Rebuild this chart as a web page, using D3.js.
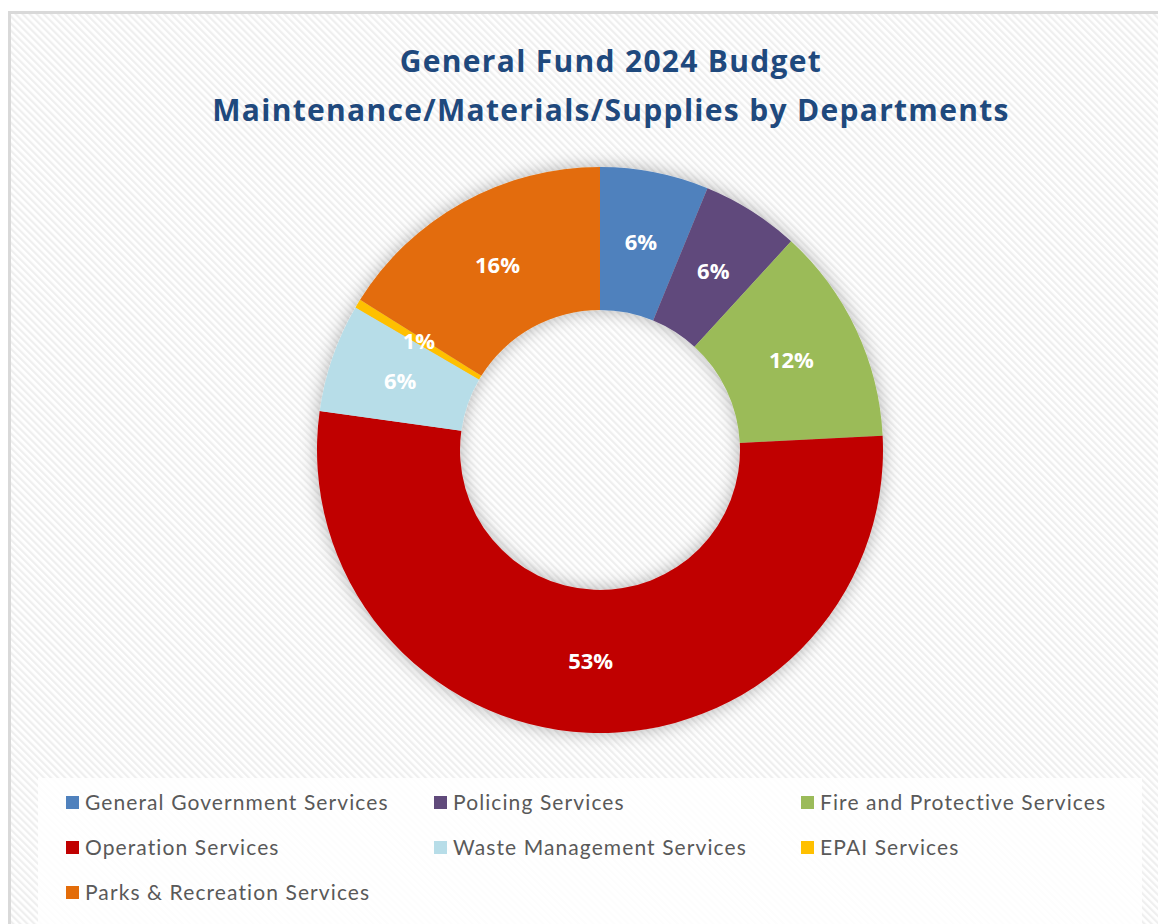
<!DOCTYPE html>
<html>
<head>
<meta charset="utf-8">
<script src="https://cdn.jsdelivr.net/npm/d3@7"></script>
<style>
  html, body { margin: 0; padding: 0; background: #ffffff; }
  svg { display: block; }
</style>
</head>
<body>
<div id="chart"></div>
<script>
// Departments, their share of the maintenance/materials/supplies budget (percent) and colours
const departments = [
  "General Government Services",
  "Policing Services",
  "Fire and Protective Services",
  "Operation Services",
  "Waste Management Services",
  "EPAI Services",
  "Parks & Recreation Services"
];
const shares = [6.2, 5.6, 12.4, 53.0, 6.2, 0.5, 16.1];
const colors = ["#4f81bd", "#604a7b", "#9bbb59", "#c00000", "#b7dde8", "#ffc000", "#e36c09"];
const titleLines = ["General Fund 2024 Budget", "Maintenance/Materials/Supplies by Departments"];

const W = 1158, H = 924;
const svg = d3.select("#chart").append("svg").attr("width", W).attr("height", H);
const defs = svg.append("defs");

// diagonal hatch used as the chart area fill
const hatch = defs.append("pattern")
  .attr("id", "hatch").attr("patternUnits", "userSpaceOnUse")
  .attr("width", 5).attr("height", 5)
  .attr("patternTransform", "rotate(-45)");
hatch.append("rect").attr("width", 5).attr("height", 5).attr("fill", "#ffffff");
hatch.append("rect").attr("width", 2.2).attr("height", 5).attr("fill", "#efefef");

const shadow = defs.append("filter").attr("id", "shadow")
  .attr("x", "-20%").attr("y", "-20%").attr("width", "140%").attr("height", "140%");
shadow.append("feDropShadow").attr("dx", 0).attr("dy", 0)
  .attr("stdDeviation", 9).attr("flood-color", "#000").attr("flood-opacity", 0.3);

// chart frame
svg.append("rect").attr("x", 9.5).attr("y", 12.5).attr("width", W + 20).attr("height", H + 20)
  .attr("fill", "url(#hatch)").attr("stroke", "#d9d9d9").attr("stroke-width", 3);

// title
const title = svg.append("text")
  .attr("text-anchor", "middle")
  .attr("font-family", "'Open Sans', Lato, sans-serif")
  .attr("font-weight", "bold").attr("font-size", 30)
  .attr("letter-spacing", 1.3).attr("fill", "#1f497d");
titleLines.forEach((t, i) => {
  title.append("tspan").attr("x", 611).attr("y", 72 + i * 49).text(t);
});

// donut
const cx = 600, cy = 450, rOuter = 283, rInner = 140;
const data = departments.map((name, i) => ({ name, value: shares[i], color: colors[i] }));
const total = d3.sum(shares);
const pie = d3.pie().value(d => d.value).sort(null);
const arc = d3.arc().innerRadius(rInner).outerRadius(rOuter);
const arcs = pie(data);

const g = svg.append("g").attr("transform", `translate(${cx},${cy})`);
g.append("g").attr("filter", "url(#shadow)")
  .selectAll("path").data(arcs).join("path")
  .attr("d", arc).attr("fill", d => d.data.color);

const fmt = d3.format(".0%");
const labelArc = d3.arc().innerRadius((rInner + rOuter) / 2).outerRadius((rInner + rOuter) / 2);
g.selectAll("text.lbl").data(arcs).join("text")
  .attr("class", "lbl")
  .attr("transform", d => `translate(${labelArc.centroid(d)})`)
  .attr("text-anchor", "middle").attr("dy", "0.36em")
  .attr("font-family", "'Open Sans', Lato, sans-serif")
  .attr("font-weight", "bold").attr("font-size", 22).attr("fill", "#ffffff")
  .text(d => fmt(d.data.value / total));

// legend
svg.append("rect").attr("x", 38).attr("y", 778).attr("width", 1104).attr("height", 150)
  .attr("fill", "#ffffff").attr("opacity", 0.85);
const colX = [66, 434, 801], rowY = [803, 848, 893];
const legend = svg.append("g").selectAll("g").data(data).join("g")
  .attr("transform", (d, i) => `translate(${colX[i % 3]},${rowY[Math.floor(i / 3)]})`);
legend.append("rect").attr("x", 0).attr("y", -7).attr("width", 13).attr("height", 13)
  .attr("fill", d => d.color);
legend.append("text").attr("x", 19).attr("y", 0).attr("dy", "0.35em")
  .attr("font-family", "Lato, 'Open Sans', sans-serif")
  .attr("font-size", 21).attr("letter-spacing", 1.1).attr("fill", "#595959")
  .text(d => d.name);
</script>
</body>
</html>
